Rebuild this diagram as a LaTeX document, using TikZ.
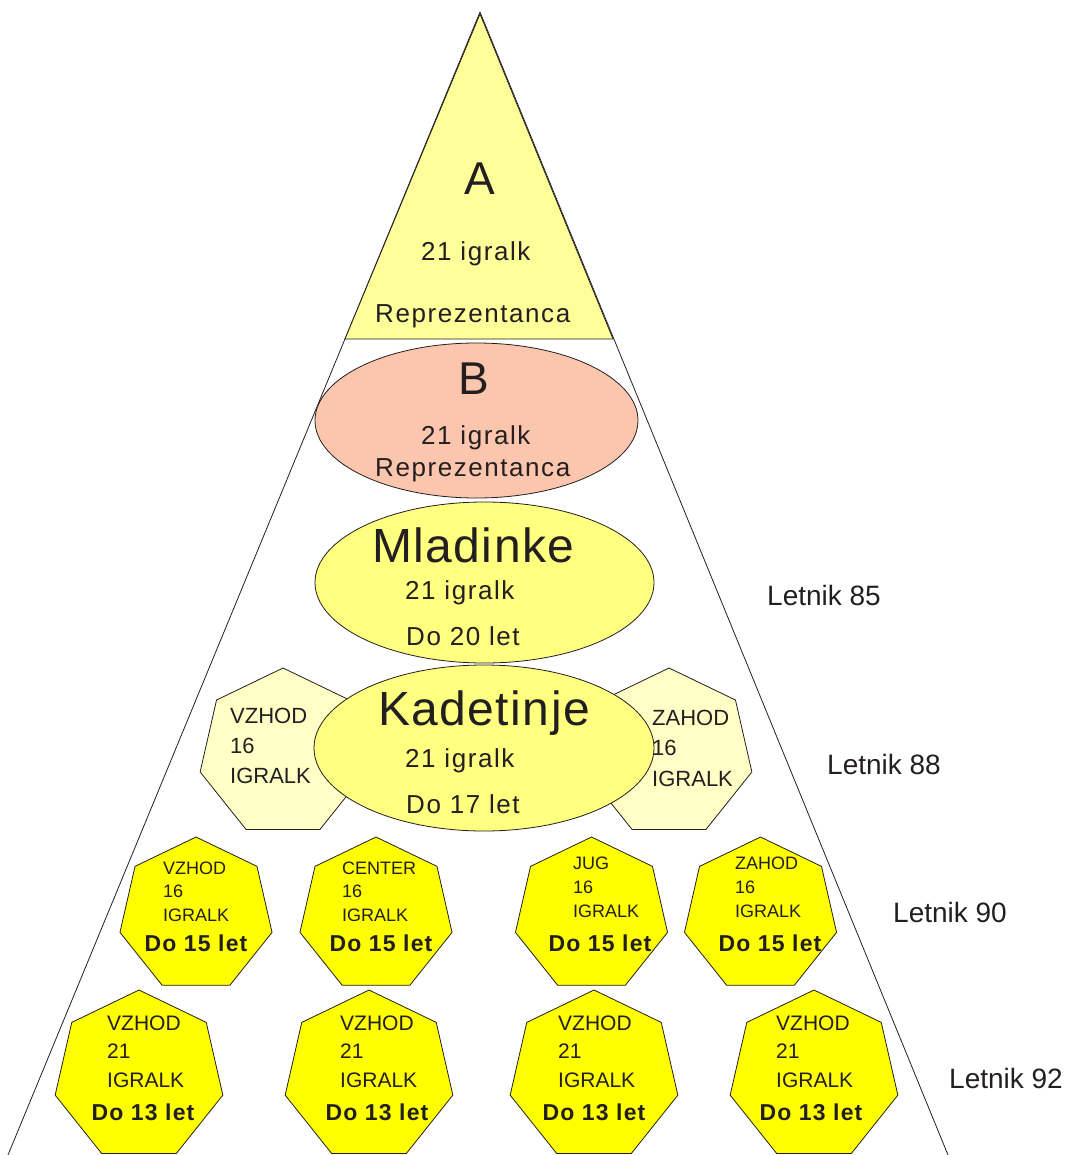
\documentclass[tikz,border=0pt]{standalone}
\usepackage{fontspec}
\setmainfont{Liberation Sans}
\newfontfamily\spmid[LetterSpace=6]{Liberation Sans}
\newfontfamily\spbig[LetterSpace=3]{Liberation Sans}
\newfontfamily\spbold[LetterSpace=5]{Liberation Sans}
\usetikzlibrary{shapes.geometric}
\definecolor{ink}{HTML}{231F20}
\definecolor{paleA}{HTML}{FFFF99}
\definecolor{salmonB}{HTML}{FCC5AD}
\definecolor{midY}{HTML}{FFFF80}
\definecolor{lightY}{HTML}{FFFFC6}
\definecolor{brightY}{HTML}{FFFF00}
\newcommand\fsz[1]{\fontsize{#1}{#1}\selectfont}
\tikzset{
  shapeline/.style={draw=ink, line width=0.8pt},
  oval/.style={shapeline, ellipse, inner sep=0pt, outer sep=0pt},
  hept/.style={shapeline, regular polygon, regular polygon sides=7, inner sep=0pt, outer sep=0pt, minimum size=#1},
  txt/.style={inner sep=0pt, anchor=base west, text=ink},
  ctxt/.style={inner sep=0pt, anchor=base, text=ink},
  small/.style={txt, font=\fsz{18}},
  mid/.style={txt, font=\fsz{21}},
  lighttxt/.style={txt, font=\fsz{22}},
  boldtxt/.style={ctxt, font=\spbold\bfseries\fsz{23}},
  midtxt/.style={txt, font=\spmid\fsz{26}},
  bigtxt/.style={txt, font=\spbig\fsz{48}},
  lettxt/.style={txt, font=\fsz{28}},
}
\begin{document}
\begin{tikzpicture}[x=1pt,y=-1pt]
\useasboundingbox (0,0) rectangle (1067,1155);
% big pyramid
\coordinate (apex) at (480,12);
\coordinate (bl) at (8,1155);
\coordinate (br) at (948,1155);
\draw[ink, line width=0.8pt] (apex) -- (bl);
\draw[ink, line width=0.8pt] (apex) -- (br);
% triangle A
\coordinate (aTop) at (480,14);
\coordinate (aL) at (345,339);
\coordinate (aR) at (613,339);
\path[shapeline, fill=paleA] (aTop) -- (aL) -- (aR) -- cycle;
\node[ctxt, font=\fsz{46}] (tA) at (480,195) {A};
\node[midtxt] (tA1) at (421,261) {21 igralk};
\node[midtxt] (tA2) at (375,322) {Reprezentanca};
% ellipse B
\node[oval, fill=salmonB, minimum width=323pt, minimum height=155pt] (B) at (476.5,420.5) {};
\node[ctxt, font=\fsz{46}] (tB) at (474,394) {B};
\node[midtxt] (tB1) at (421,444) {21 igralk};
\node[midtxt] (tB2) at (375,476) {Reprezentanca};
% Mladinke
\node[oval, fill=midY, minimum width=339pt, minimum height=161pt] (M) at (484.5,582.5) {};
\node[bigtxt] (tM) at (372,562) {Mladinke};
\node[midtxt] (tM1) at (405,599) {21 igralk};
\node[midtxt] (tM2) at (406,645) {Do 20 let};
% light heptagons
\node[hept=170pt, fill=lightY] (LH) at (283,753) {};
\node[hept=170pt, fill=lightY] (RH) at (669,753) {};
\node[lighttxt] (tLH1) at (230,723) {VZHOD};
\node[lighttxt] (tLH2) at (230,753) {16};
\node[lighttxt] (tLH3) at (230,783) {IGRALK};
% Kadetinje
\node[oval, fill=midY, minimum width=340pt, minimum height=166pt] (K) at (484,748) {};
\node[bigtxt] (tK) at (378,725) {Kadetinje};
\node[midtxt] (tK1) at (405,767) {21 igralk};
\node[midtxt] (tK2) at (406,813) {Do 17 let};
\node[lighttxt] (tRH1) at (652,725) {ZAHOD};
\node[lighttxt] (tRH2) at (652,755) {16};
\node[lighttxt] (tRH3) at (652,786) {IGRALK};
% row 3 (Letnik 90)
\node[hept=156pt, fill=brightY] (P1) at (196,915) {};
\node[hept=156pt, fill=brightY] (P2) at (376,915) {};
\node[hept=156pt, fill=brightY] (P3) at (591.5,915) {};
\node[hept=156pt, fill=brightY] (P4) at (760.5,915) {};
\node[small] at (163,874) {VZHOD};
\node[small] at (163,897) {16};
\node[small] at (163,921) {IGRALK};
\node[boldtxt] at (196,951) {Do 15 let};
\node[small] at (342,874) {CENTER};
\node[small] at (342,897) {16};
\node[small] at (342,921) {IGRALK};
\node[boldtxt] at (381,951) {Do 15 let};
\node[small] at (573,869) {JUG};
\node[small] at (573,893) {16};
\node[small] at (573,917) {IGRALK};
\node[boldtxt] at (600,951) {Do 15 let};
\node[small] at (735,869) {ZAHOD};
\node[small] at (735,893) {16};
\node[small] at (735,917) {IGRALK};
\node[boldtxt] at (770,951) {Do 15 let};
% row 4 (Letnik 92)
\node[hept=172pt, fill=brightY] (Q1) at (139,1076) {};
\node[hept=172pt, fill=brightY] (Q2) at (369,1076) {};
\node[hept=172pt, fill=brightY] (Q3) at (594,1076) {};
\node[hept=172pt, fill=brightY] (Q4) at (814,1076) {};
\foreach \xl/\xc in {107/143, 340/377, 558/594, 776/811}{
  \node[mid] at (\xl,1030) {VZHOD};
  \node[mid] at (\xl,1058) {21};
  \node[mid] at (\xl,1087) {IGRALK};
  \node[boldtxt] at (\xc,1120) {Do 13 let};
}
% year labels
\node[lettxt] (L85) at (767,605) {Letnik 85};
\node[lettxt] (L88) at (827,774) {Letnik 88};
\node[lettxt] (L90) at (893,922) {Letnik 90};
\node[lettxt] (L92) at (949,1088) {Letnik 92};
\end{tikzpicture}
\end{document}
